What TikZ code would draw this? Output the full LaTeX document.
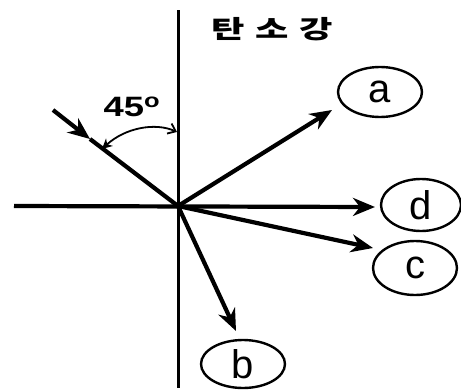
\documentclass[tikz,border=0pt]{standalone}
\usepackage{graphicx}
\usepackage{fontspec}
\setmainfont{Liberation Sans}
\newfontfamily\krfont{Noto Sans CJK KR}
\usetikzlibrary{arrows.meta,shapes.geometric}
\tikzset{
  axisline/.style={line width=3pt},
  ray/.style={line width=4.2pt,-{Stealth[length=22pt,width=18pt,inset=7pt]}},
  label/.style={ellipse,draw,line width=2.4pt,inner sep=0pt,font=\fontsize{40}{40}\selectfont},
  anglearc/.style={line width=1.8pt,{Stealth[length=10pt,width=10pt,inset=3pt]}-{Straight Barb[length=7pt,width=11pt]}}
}
\begin{document}
\begin{tikzpicture}[x=1pt,y=-1pt]
\useasboundingbox (0,0) rectangle (461,391);
\fill[white] (0,0) rectangle (461,391);
\coordinate (O) at (178,206);
\coordinate (top) at (178,10);
\coordinate (bot) at (178,388);
\coordinate (left) at (14,206);
\coordinate (inc) at (53,110);
\coordinate (incm) at (90,139);
\coordinate (ta) at (332,110);
\coordinate (tb) at (236,331);
\coordinate (tc) at (373,248);
\coordinate (td) at (375,207);
\coordinate (arcL) at (102,149);
\coordinate (arcR) at (177,132);
% ellipses
\node[label,minimum width=84pt,minimum height=50pt] (a) at (380,92) {a};
\node[label,minimum width=80pt,minimum height=52pt] (d) at (421,205) {d};
\node[label,minimum width=84pt,minimum height=54pt] (c) at (415,268) {c};
\node[label,minimum width=84pt,minimum height=48pt] (b) at (243,364) {b};
% axes
\draw[axisline] (top) -- (bot);
% rays
\draw[ray] (left) -- (td);
\draw[ray] (O) -- (ta);
\draw[ray] (O) -- (tc);
\draw[ray] (O) -- (tb);
\draw[ray] (inc) -- (incm);
\draw[line width=4.2pt] (incm) -- (O);
% angle
\draw[anglearc] (arcL) .. controls (125,128) and (155,122) .. (arcR);
\node[font=\bfseries\fontsize{28}{28}\selectfont] (ang) at (132,107) {\scalebox{1.3}[1]{45$^{\mathbf{o}}$}};
% title
\node[font=\krfont\bfseries\fontsize{25}{25}\selectfont] (title) at (272,29) {\scalebox{1.45}[1]{탄\hspace{0.3em}소\hspace{0.3em}강}};
\end{tikzpicture}
\end{document}
